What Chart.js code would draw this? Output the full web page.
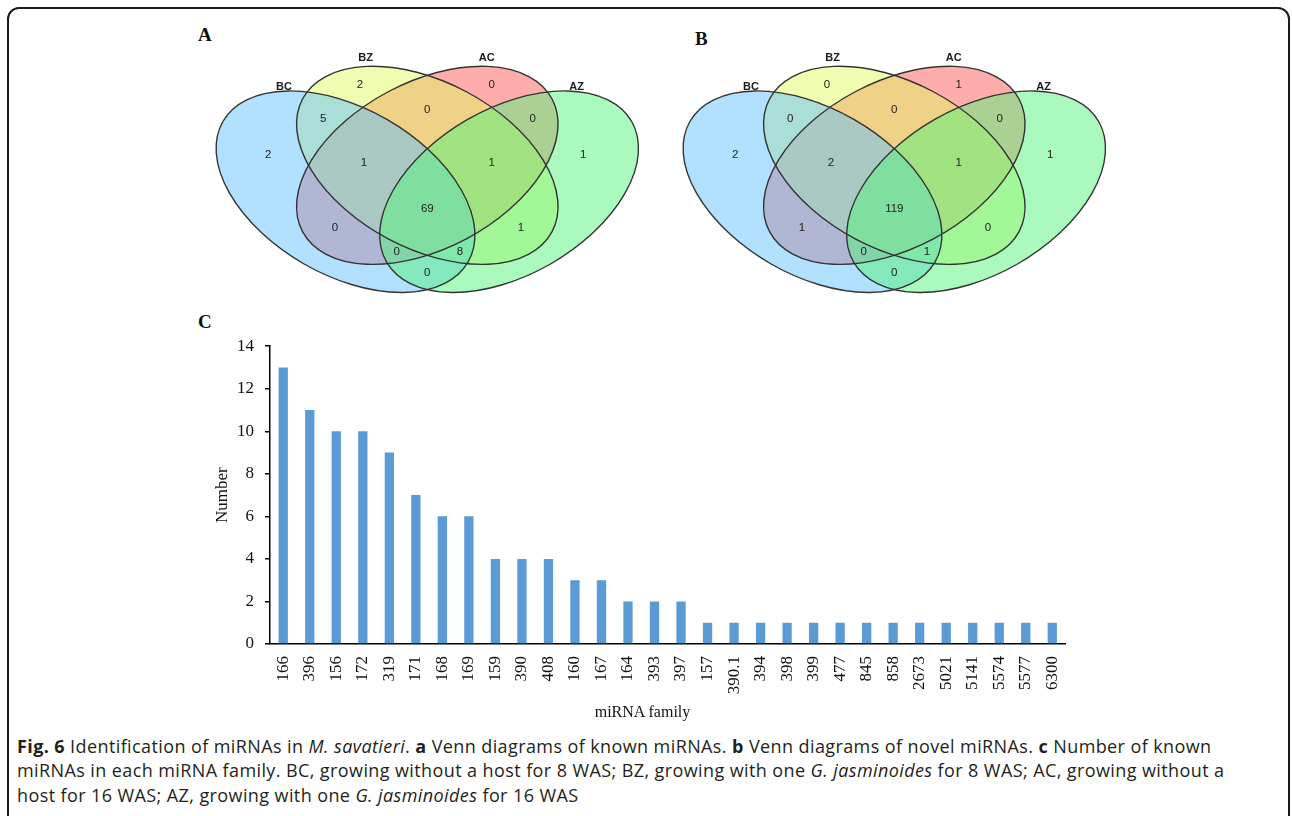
<!DOCTYPE html>
<html>
<head>
<meta charset="utf-8">
<script src="https://cdn.jsdelivr.net/npm/chart.js@4.4.0/dist/chart.umd.min.js"></script>
<style>
  html, body { margin: 0; padding: 0; background: #fff; }
  body { width: 1292px; height: 816px; position: relative; overflow: hidden; }
  .frame { position: absolute; left: 7px; top: 7px; width: 1283px; height: 900px;
           border: 2px solid #1c1c1c; border-radius: 12px; box-sizing: border-box; }
  .panel { position: absolute; font-family: 'Liberation Serif', serif; font-weight: bold;
           font-size: 19px; color: #111; line-height: 1; }
  canvas { position: absolute; }
  .xtitle { position: absolute; left: 560px; top: 703px; width: 165px; text-align: center;
            font-family: 'Liberation Serif', serif; font-size: 16px; color: #111; }
  .caption { position: absolute; left: 17px; top: 734px; font-family: 'Open Sans', sans-serif;
             font-size: 18px; letter-spacing: 0.4px; line-height: 24.3px; color: #231f20;
             white-space: nowrap; }
</style>
</head>
<body>
<div class="frame"></div>
<div class="panel" style="left:198px;top:25px">A</div>
<div class="panel" style="left:695px;top:29px">B</div>
<div class="panel" style="left:198px;top:312px">C</div>
<canvas id="vennA" width="460" height="285" style="left:190px;top:20px"></canvas>
<canvas id="vennB" width="460" height="285" style="left:657px;top:20px"></canvas>
<canvas id="bars" width="890" height="405" style="left:195px;top:325px"></canvas>
<div class="xtitle">miRNA family</div>
<div class="caption">
<b>Fig. 6</b> Identification of miRNAs in <i>M. savatieri</i>. <b>a</b> Venn diagrams of known miRNAs. <b>b</b> Venn diagrams of novel miRNAs. <b>c</b> Number of known<br>
miRNAs in each miRNA family. BC, growing without a host for 8 WAS; BZ, growing with one <i>G. jasminoides</i> for 8 WAS; AC, growing without a<br>
host for 16 WAS; AZ, growing with one <i>G. jasminoides</i> for 16 WAS
</div>
<script>
// ---- data ----
const vennSets = ['BC', 'BZ', 'AC', 'AZ'];
// regions, in this order
const vennRegions = ['BC', 'BZ', 'AC', 'AZ', 'BC&BZ', 'BZ&AC', 'AC&AZ', 'BC&BZ&AC', 'BZ&AC&AZ',
  'BC&BZ&AC&AZ', 'BC&AC', 'BZ&AZ', 'BC&AC&AZ', 'BC&BZ&AZ', 'BC&AZ'];
const knownCounts = [2, 2, 0, 1, 5, 0, 0, 1, 1, 69, 0, 1, 0, 8, 0];
const novelCounts = [2, 0, 1, 1, 0, 0, 0, 2, 1, 119, 1, 0, 0, 1, 0];

const families = ['166', '396', '156', '172', '319', '171', '168', '169', '159', '390', '408', '160',
  '167', '164', '393', '397', '157', '390.1', '394', '398', '399', '477', '845', '858', '2673',
  '5021', '5141', '5574', '5577', '6300'];
const familyCounts = [13, 11, 10, 10, 9, 7, 6, 6, 4, 4, 4, 3, 3, 2, 2, 2, 1, 1, 1, 1, 1, 1, 1, 1,
  1, 1, 1, 1, 1, 1];

// ---- venn layout (canvas units) ----
const W = 460, H = 285;
const ELLIPSES = {
  BC: { cx: 155.5, cy: 171.7, a: 141.3, b: 83.3, rot: 29.8 },
  BZ: { cx: 237.3, cy: 145.3, a: 141.3, b: 83.3, rot: 28 },
  AC: { cx: 237.3, cy: 145.3, a: 141.3, b: 83.3, rot: -28 },
  AZ: { cx: 319.1, cy: 171.7, a: 141.3, b: 83.3, rot: -29.8 }
};
const SET_COLORS = {
  BC: 'rgba(101,193,255,0.5)',
  BZ: 'rgba(225,249,97,0.5)',
  AC: 'rgba(255,89,89,0.5)',
  AZ: 'rgba(85,245,125,0.5)'
};
const DRAW_ORDER = ['AC', 'BZ', 'BC', 'AZ'];
const SET_LABEL_POS = { BC: [94, 67], BZ: [175.7, 38.3], AC: [296.7, 38.3], AZ: [386.7, 66.7] };
const REGION_POS = {
  'BC': [78.3, 135], 'BZ': [170, 65], 'AC': [301.7, 65], 'AZ': [393.3, 135],
  'BC&BZ': [133.3, 99.3], 'BZ&AC': [237.3, 90], 'AC&AZ': [342.7, 99.3],
  'BC&BZ&AC': [174, 143.3], 'BZ&AC&AZ': [301.7, 143.3], 'BC&BZ&AC&AZ': [237.3, 189.3],
  'BC&AC': [145, 208.3], 'BZ&AZ': [331, 208.3], 'BC&AC&AZ': [206.7, 231.7],
  'BC&BZ&AZ': [270, 231.7], 'BC&AZ': [237.3, 253.3]
};

const vennPlugin = {
  id: 'venn',
  beforeDatasetsDraw(chart) {
    const { ctx, scales: { x, y } } = chart;
    const ell = name => {
      const e = ELLIPSES[name];
      const cx = x.getPixelForValue(e.cx), cy = y.getPixelForValue(e.cy);
      const rx = Math.abs(x.getPixelForValue(e.cx + e.a) - cx);
      const ry = Math.abs(y.getPixelForValue(e.cy + e.b) - cy);
      ctx.beginPath();
      ctx.ellipse(cx, cy, rx, ry, e.rot * Math.PI / 180, 0, Math.PI * 2);
    };
    ctx.save();
    DRAW_ORDER.forEach(name => {
      ell(name);
      ctx.fillStyle = SET_COLORS[name];
      ctx.fill();
    });
    ctx.strokeStyle = '#333';
    ctx.lineWidth = 1.4;
    vennSets.forEach(name => { ell(name); ctx.stroke(); });
    ctx.fillStyle = '#1a1a1a';
    ctx.font = 'bold 11px "Liberation Sans", Arial, sans-serif';
    ctx.textAlign = 'center';
    ctx.textBaseline = 'middle';
    vennSets.forEach(name => {
      const p = SET_LABEL_POS[name];
      ctx.fillText(name, x.getPixelForValue(p[0]), y.getPixelForValue(p[1]));
    });
    ctx.restore();
  },
  afterDatasetsDraw(chart) {
    const { ctx } = chart;
    const ds = chart.data.datasets[0];
    const meta = chart.getDatasetMeta(0);
    ctx.save();
    ctx.fillStyle = '#222';
    ctx.font = '11.5px "Liberation Sans", Arial, sans-serif';
    ctx.textAlign = 'center';
    ctx.textBaseline = 'middle';
    meta.data.forEach((pt, i) => ctx.fillText(String(ds.counts[i]), pt.x, pt.y));
    ctx.restore();
  }
};

function makeVenn(id, counts) {
  return new Chart(document.getElementById(id), {
    type: 'scatter',
    data: {
      datasets: [{
        data: vennRegions.map(r => ({ x: REGION_POS[r][0], y: REGION_POS[r][1] })),
        counts: counts,
        pointRadius: 0
      }]
    },
    options: {
      responsive: false, animation: false, devicePixelRatio: 1,
      layout: { padding: 0 },
      plugins: { legend: { display: false }, tooltip: { enabled: false } },
      scales: {
        x: { type: 'linear', min: 0, max: W, display: false },
        y: { type: 'linear', min: 0, max: H, reverse: true, display: false }
      }
    },
    plugins: [vennPlugin]
  });
}
makeVenn('vennA', knownCounts);
makeVenn('vennB', novelCounts);

// ---- bar chart ----
const serif = 'Liberation Serif';
new Chart(document.getElementById('bars'), {
  type: 'bar',
  data: {
    labels: families,
    datasets: [{ data: familyCounts, backgroundColor: '#5b9bd5', barPercentage: 0.35, categoryPercentage: 1 }]
  },
  options: {
    responsive: false, animation: false, devicePixelRatio: 1,
    layout: { padding: { top: 11, right: 19, left: 0, bottom: 0 } },
    plugins: { legend: { display: false }, tooltip: { enabled: false } },
    scales: {
      x: {
        grid: { display: false, drawTicks: false },
        border: { display: true, color: '#000', width: 1.5 },
        ticks: { font: { family: serif, size: 17 }, color: '#111', minRotation: 90, maxRotation: 90,
                 padding: 12, autoSkip: false },
        afterFit(s) { s.height = 86; }
      },
      y: {
        min: 0, max: 14,
        ticks: { stepSize: 2, font: { family: serif, size: 17 }, color: '#111', padding: 11 },
        grid: { display: true, drawOnChartArea: false, drawTicks: true, tickLength: 5,
                color: '#000', lineWidth: 1.5 },
        border: { display: true, color: '#000', width: 1.5 },
        title: { display: true, text: 'Number', font: { family: serif, size: 17 }, color: '#111',
                 padding: { top: 17, bottom: 0 } },
        afterFit(s) { s.width = 75; }
      }
    }
  }
});
</script>
</body>
</html>
